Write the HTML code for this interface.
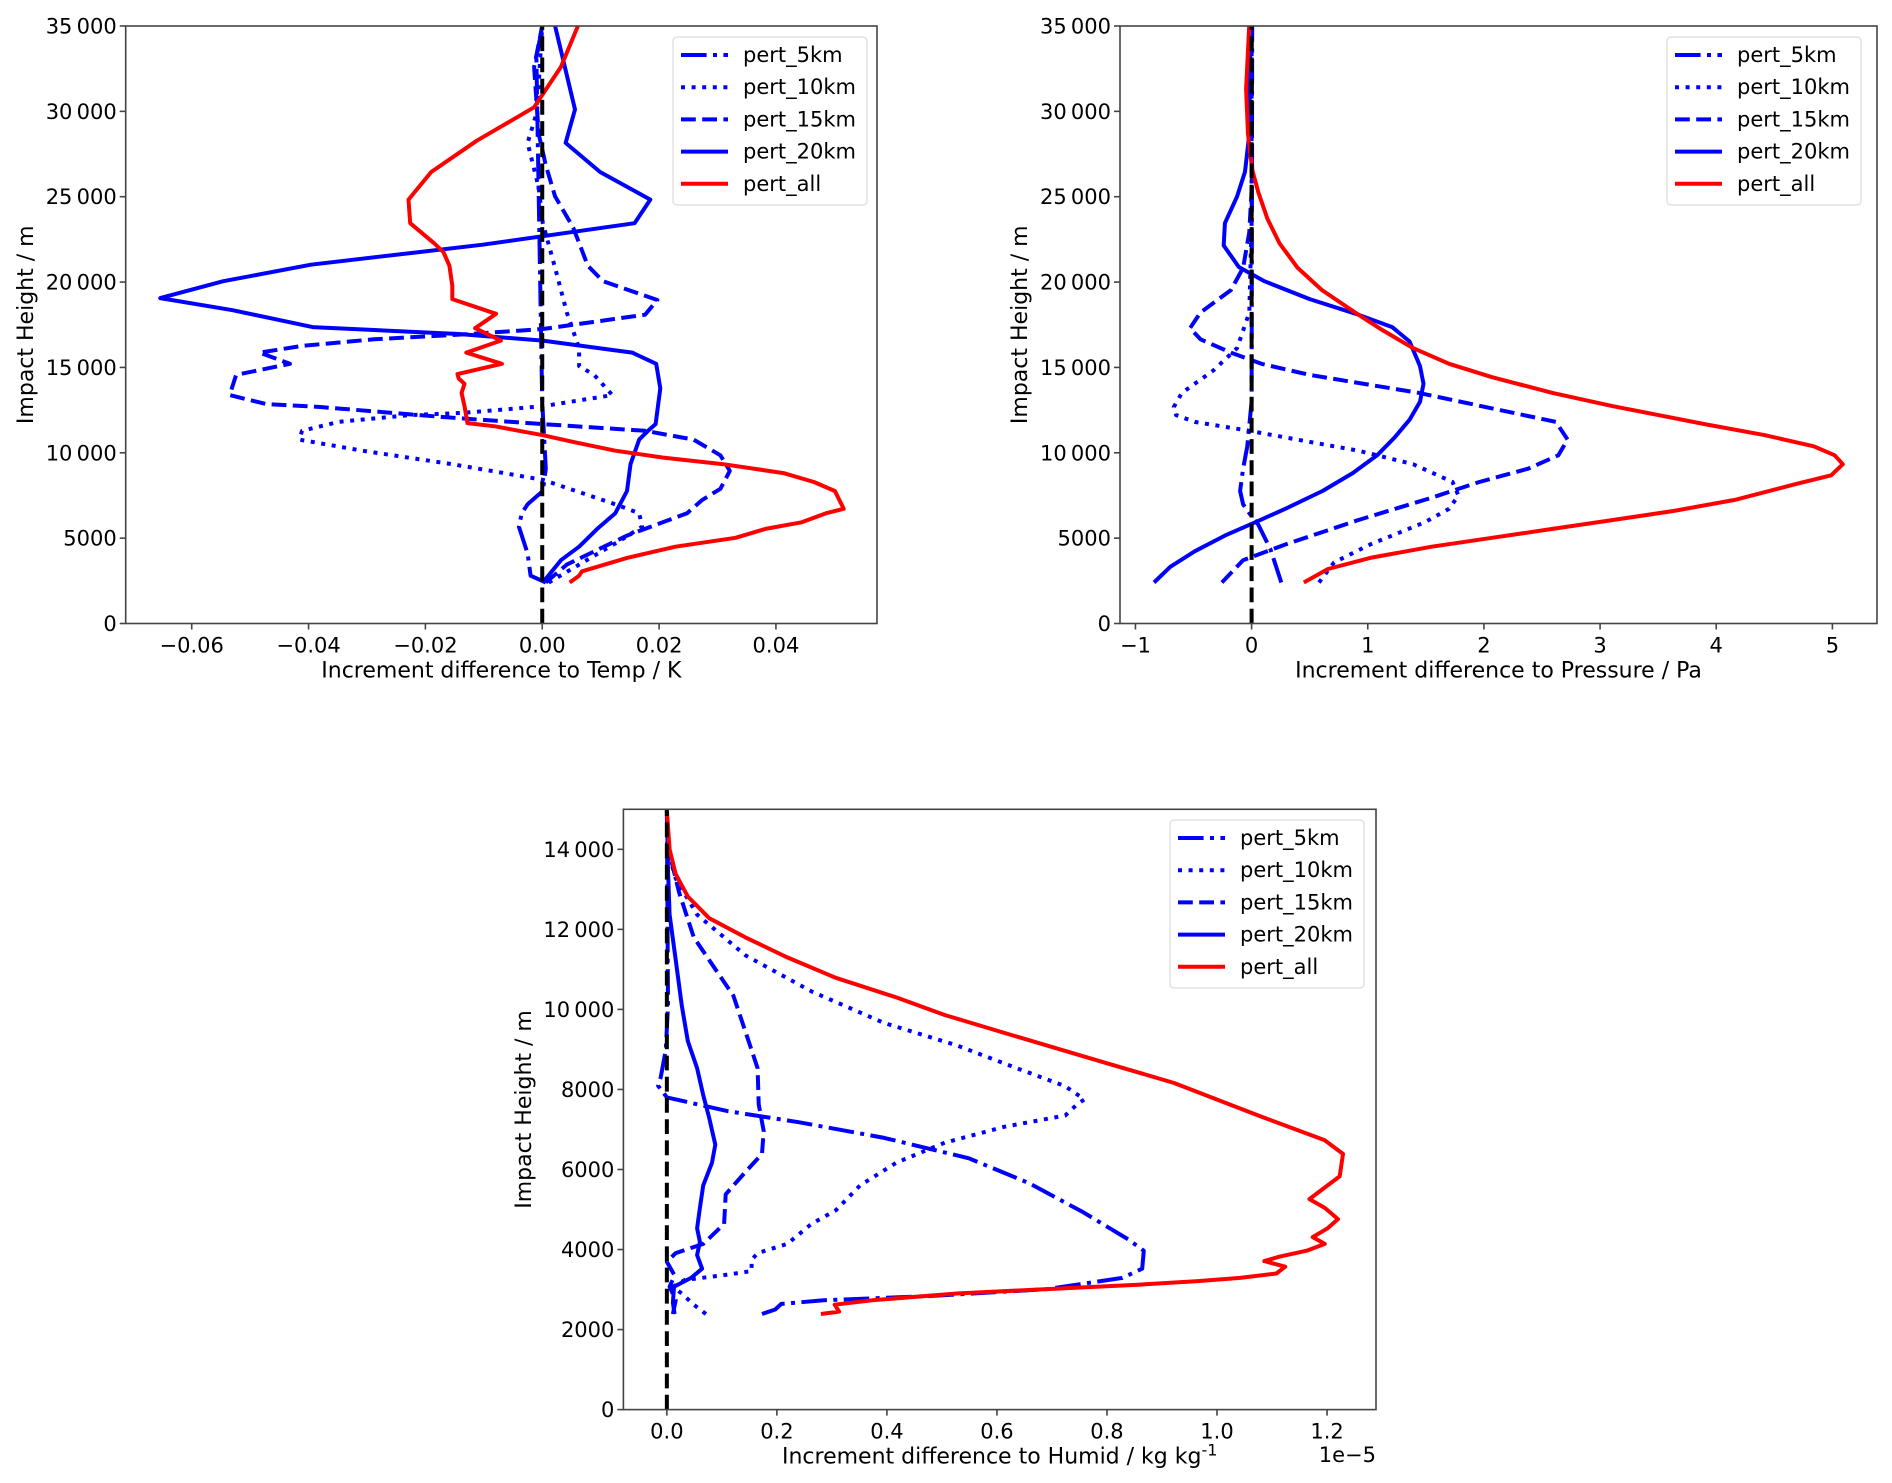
<!DOCTYPE html>
<html><head><meta charset="utf-8"><style>
html,body{margin:0;padding:0;background:#fff}
svg{display:block;font-family:"DejaVu Sans","Liberation Sans",sans-serif}
</style></head><body>
<svg id="fig" width="1892" height="1483" viewBox="0 0 1892 1483" xmlns="http://www.w3.org/2000/svg"></svg>
<script>
// ---------- data: plot 1 (Temp) ----------
const tAllX=[0.0047,0.0063,0.0068,0.0145,0.0228,0.0331,0.0382,0.0444,0.0486,0.0516,0.0501,0.0465,0.0413,0.031,0.0207,0.0125,0.0053,0.0001,-0.004,-0.0081,-0.0128,-0.0133,-0.0138,-0.0133,-0.0143,-0.0145,-0.0069,-0.013,-0.0071,-0.0115,-0.0079,-0.0154,-0.0154,-0.0159,-0.0169,-0.0185,-0.0226,-0.0229,-0.019,-0.0112,-0.0014,0.0001,0.0032,0.0061];
const tAllY=[2400,2800,3060,3840,4500,5020,5540,5930,6460,6720,7760,8290,8810,9330,9720,10120,10640,11030,11290,11550,11740,12730,13510,14040,14350,14610,15210,15870,16570,17300,18140,19000,19790,20960,21750,22270,23450,24830,26450,28280,30240,31010,32600,35000];
const t20X=[0.0001,0.0032,0.0063,0.0094,0.0125,0.0145,0.0151,0.0166,0.0181,0.0194,0.0202,0.0195,0.0154,0.0001,-0.0143,-0.0393,-0.053,-0.0654,-0.0546,-0.0396,-0.0102,0.0158,0.0185,0.0099,0.004,0.0056,0.0022];
const t20Y=[2400,3710,4500,5540,6460,7760,9330,10770,11290,11680,13770,15210,15870,16570,16960,17360,18350,19060,20050,21020,22190,23450,24830,26450,28150,30110,35000];
const t15X=[0.0006,0.0042,0.0145,0.0248,0.0274,0.0305,0.0321,0.0305,0.0259,0.0176,0.0001,-0.0164,-0.038,-0.0473,-0.0535,-0.0524,-0.0432,-0.0484,-0.0411,-0.0288,-0.0123,0.0001,0.0176,0.0197,0.0104,0.0078,0.0053,0.0022,0.0006,-0.0006,-0.0014,0];
const t15Y=[2400,3450,5150,6460,7240,7890,8940,9850,10770,11290,11680,12080,12680,12860,13380,14560,15210,15870,16260,16650,16960,17250,18090,18950,20050,20960,23190,25020,26840,28680,32600,35000];
const t10X=[0.0011,0.0063,0.0135,0.0171,0.0166,0.0125,0.0001,-0.0154,-0.0308,-0.0416,-0.0411,-0.0349,-0.0226,-0.0133,0.0001,0.012,0.0089,0.0063,0.0063,0.0042,0.0022,0.0001,-0.0006,-0.0025,-0.0009,0];
const t10Y=[2400,3450,4890,5670,6460,6980,8420,9330,10120,10770,11290,11810,12210,12340,12730,13380,14560,15080,16130,18220,20830,23450,25540,28150,29980,35000];
const t5X=[0.0006,-0.002,-0.0025,-0.0035,-0.004,-0.0035,-0.0025,0.0001,0.0006,0,-0.001,0];
const t5Y=[2400,2800,4100,5150,5670,6460,6980,7760,9070,13000,33100,35000];
// ---------- data: plot 2 (Pressure) ----------
const pAllX=[0.449,0.658,1.02,1.55,2.07,2.59,3.11,3.63,4.16,4.68,4.99,5.09,5.02,4.84,4.42,3.90,3.11,2.59,2.07,1.70,1.39,1.13,0.919,0.606,0.397,0.24,0.136,0.057,0.005,-0.031,-0.047,-0.021];
const pAllY=[2400,3190,3840,4500,5020,5540,6060,6590,7240,8160,8680,9330,9850,10380,11030,11680,12730,13510,14430,15210,16130,17170,18090,19530,20830,22270,23710,25280,26590,28680,31300,35000];
const p20X=[-0.84,-0.70,-0.49,-0.23,0.031,0.29,0.61,0.87,1.08,1.23,1.36,1.45,1.48,1.45,1.36,1.21,0.92,0.50,0.11,-0.11,-0.24,-0.23,-0.125,-0.057,-0.02,-0.01];
const p20Y=[2400,3320,4230,5150,5930,6720,7760,8810,9850,10890,11940,12990,14040,15080,16520,17360,18090,19000,20050,20880,22140,23450,25020,26460,28680,35000];
const p15X=[-0.256,-0.073,0.29,0.92,1.55,1.96,2.38,2.64,2.72,2.62,2.07,1.44,0.50,0.084,-0.178,-0.44,-0.53,-0.44,-0.178,-0.073,-0.02,0.005,0];
const p15Y=[2400,3710,4630,6060,7370,8290,9070,9850,10770,11810,12600,13510,14560,15210,15870,16650,17300,18220,19530,20830,22920,26060,35000];
const p10X=[0.58,0.71,1.02,1.49,1.70,1.78,1.73,1.39,0.92,0.50,-0.02,-0.49,-0.65,-0.67,-0.60,-0.33,-0.125,-0.02,0,0];
const p10Y=[2400,3580,4630,5930,6720,7500,8290,9330,10120,10640,11290,11810,12210,12680,13510,14820,16130,18220,23450,35000];
const p5X=[0.256,0.162,0.057,-0.02,-0.073,-0.099,-0.073,-0.037,0,0.005];
const p5Y=[2400,4360,5800,6460,6980,7760,9070,10380,13000,35000];
// ---------- data: plot 3 (Humid, 1e-5) ----------
const hAllX=[0.28,0.313,0.305,0.373,0.527,0.691,0.856,0.965,1.042,1.108,1.124,1.086,1.113,1.163,1.196,1.174,1.201,1.22,1.196,1.168,1.196,1.223,1.229,1.196,1.075,0.922,0.801,0.636,0.505,0.417,0.307,0.219,0.143,0.077,0.038,0.016,0.005,0];
const hAllY=[2390,2450,2620,2730,2900,3010,3120,3210,3290,3400,3570,3710,3820,3970,4140,4310,4530,4760,5040,5260,5550,5830,6390,6730,7350,8160,8650,9320,9860,10300,10790,11300,11800,12280,12820,13380,14000,14960];
const h5X=[0.173,0.197,0.208,0.285,0.483,0.691,0.828,0.864,0.867,0.839,0.757,0.658,0.549,0.395,0.241,0.11,0,-0.016,-0.011,-0.002,0.002,0];
const h5Y=[2390,2500,2640,2730,2840,3010,3290,3520,3970,4250,4930,5660,6280,6790,7180,7460,7800,8090,8310,8990,10110,14960];
const h15X=[0.011,0.016,0.005,0.014,0,0.016,0.066,0.104,0.107,0.143,0.173,0.176,0.167,0.165,0.143,0.121,0.082,0.049,0.022,0.002,0];
const h15Y=[2390,2730,3070,3350,3690,3910,4140,4640,5380,5940,6390,6960,7630,8530,9440,10340,11130,11800,12930,14060,14960];
const h20X=[0.014,0.011,0.013,0.044,0.064,0.055,0.06,0.055,0.06,0.066,0.082,0.088,0.077,0.066,0.055,0.038,0.027,0.016,0.005,0.002,0];
const h20Y=[2390,2670,3070,3290,3520,3860,4190,4530,5040,5600,6170,6620,7290,7860,8530,9210,10110,11240,12370,13490,14960];
const h10X=[0.071,0.049,0.027,0.011,0.033,0.099,0.154,0.154,0.165,0.219,0.263,0.307,0.351,0.417,0.505,0.614,0.724,0.746,0.759,0.724,0.636,0.527,0.395,0.263,0.143,0.055,0.016,0];
const h10Y=[2390,2620,2900,3070,3240,3350,3460,3740,3910,4140,4640,4980,5600,6170,6670,7070,7350,7630,7750,8080,8530,9100,9660,10450,11350,12370,13270,14060];
// tick labels
const t1XTicks=[-0.06,-0.04,-0.02,0,0.02,0.04];
const t1XLabels=["\u22120.06","\u22120.04","\u22120.02","0.00","0.02","0.04"];
const bigYTicks=[0,5000,10000,15000,20000,25000,30000,35000];
const bigYLabels=["0","5000","10\u2009000","15\u2009000","20\u2009000","25\u2009000","30\u2009000","35\u2009000"];
const p2XTicks=[-1,0,1,2,3,4,5];
const p2XLabels=["\u22121","0","1","2","3","4","5"];
const h3XTicks=[0,0.2,0.4,0.6,0.8,1.0,1.2];
const h3XLabels=["0.0","0.2","0.4","0.6","0.8","1.0","1.2"];
const h3YTicks=[0,2000,4000,6000,8000,10000,12000,14000];
const h3YLabels=["0","2000","4000","6000","8000","10\u2009000","12\u2009000","14\u2009000"];
const legendNames=["pert_5km","pert_10km","pert_15km","pert_20km","pert_all"];

const NS="http://www.w3.org/2000/svg";
const svg=document.getElementById('fig');
function mk(tag,attrs,parent){const e=document.createElementNS(NS,tag);for(const k in attrs)e.setAttribute(k,attrs[k]);(parent||svg).appendChild(e);return e;}
const STY={
 d5:{stroke:'#0000ff',dash:'25.6,6.4,4,6.4'},
 d10:{stroke:'#0000ff',dash:'4,6.6'},
 d15:{stroke:'#0000ff',dash:'14.8,6.4'},
 d20:{stroke:'#0000ff',dash:''},
 all:{stroke:'#ff0000',dash:''}
};
function plot(cfg){
 const g=mk('g',{});
 
 
 const sx=v=>cfg.L+(v-cfg.x0)/(cfg.x1-cfg.x0)*(cfg.R-cfg.L);
 const sy=v=>cfg.B-(v-cfg.y0)/(cfg.y1-cfg.y0)*(cfg.B-cfg.T);
 const clip='c'+cfg.name;
 const cp=mk('clipPath',{id:clip},g);mk('rect',{x:cfg.L,y:cfg.T,width:cfg.R-cfg.L,height:cfg.B-cfg.T},cp);
 const lines=mk('g',{'clip-path':'url(#'+clip+')'},g);
 cfg.series.forEach(s=>{
  const st=STY[s.k];
  const pts=s.x.map((v,i)=>sx(v).toFixed(1)+','+sy(s.y[i]).toFixed(1)).join(' ');
  const p=mk('polyline',{points:pts,fill:'none',stroke:st.stroke,'stroke-width':4,'stroke-linejoin':'round'},lines);
  if(st.dash)p.setAttribute('stroke-dasharray',st.dash);
  
  
 });
 const z=mk('line',{x1:sx(0),x2:sx(0),y1:sy(cfg.y0),y2:sy(cfg.y1),stroke:'#000','stroke-width':4,'stroke-dasharray':'14.8,6.4'},lines);
 
 
 const fr=mk('rect',{x:cfg.L,y:cfg.T,width:cfg.R-cfg.L,height:cfg.B-cfg.T,fill:'none',stroke:'#444','stroke-width':1.6},g);
 
 
 cfg.xt.forEach((v,i)=>{
  const x=sx(v);
  mk('line',{x1:x,x2:x,y1:cfg.B,y2:cfg.B+6,stroke:'#444','stroke-width':1.6},g);
  const t=mk('text',{x:x,y:cfg.B+29,'font-size':21,'text-anchor':'middle',fill:'#000'},g);t.textContent=cfg.xl[i];
  
  
 });
 cfg.yt.forEach((v,i)=>{
  const y=sy(v);
  mk('line',{x1:cfg.L-6,x2:cfg.L,y1:y,y2:y,stroke:'#444','stroke-width':1.6},g);
  const t=mk('text',{x:cfg.L-9,y:y+7.5,'font-size':21,'text-anchor':'end',fill:'#000'},g);t.textContent=cfg.yl[i];
  
  
 });
 const xt=mk('text',{x:(cfg.L+cfg.R)/2,y:cfg.B+54,'font-size':22,'text-anchor':'middle',fill:'#000'},g);
 xt.innerHTML=cfg.xlabel;
 
 
 const yc=(cfg.T+cfg.B)/2;
 const yt=mk('text',{x:cfg.ylx,y:yc,'font-size':22,'text-anchor':'middle',fill:'#000',transform:'rotate(-90 '+cfg.ylx+' '+yc+')'},g);
 yt.textContent='Impact Height / m';
 
 
 // legend
 const lg=mk('g',{},g);
 
 
 mk('rect',{x:cfg.lgx,y:cfg.lgy,width:194,height:168,rx:4,fill:'#fff','fill-opacity':0.85,stroke:'#ddd','stroke-width':1.3},lg);
 ['d5','d10','d15','d20','all'].forEach((k,i)=>{
  const y=cfg.lgy+18+i*32.2;
  const e=mk('g',{},lg);
  
  
  const l=mk('line',{x1:cfg.lgx+8,x2:cfg.lgx+55,y1:y,y2:y,stroke:STY[k].stroke,'stroke-width':4},e);
  if(STY[k].dash)l.setAttribute('stroke-dasharray',STY[k].dash);
  const t=mk('text',{x:cfg.lgx+70,y:y+7,'font-size':21,fill:'#000'},e);t.textContent=legendNames[i];
 });
 return {sx,sy,g};
}
plot({name:'temp-plot',L:125.7,R:877,T:26,B:623.5,x0:-0.0713,x1:0.0573,y0:0,y1:35000,
 xt:t1XTicks,xl:t1XLabels,yt:bigYTicks,yl:bigYLabels,xlabel:'Increment difference to Temp / K',ylx:33,lgx:673,lgy:37,
 series:[{k:'d5',x:t5X,y:t5Y},{k:'d10',x:t10X,y:t10Y},{k:'d15',x:t15X,y:t15Y},{k:'d20',x:t20X,y:t20Y},{k:'all',x:tAllX,y:tAllY}]});
plot({name:'pressure-plot',L:1120,R:1877,T:26,B:623.5,x0:-1.133,x1:5.384,y0:0,y1:35000,
 xt:p2XTicks,xl:p2XLabels,yt:bigYTicks,yl:bigYLabels,xlabel:'Increment difference to Pressure / Pa',ylx:1027,lgx:1667,lgy:37,
 series:[{k:'d5',x:p5X,y:p5Y},{k:'d10',x:p10X,y:p10Y},{k:'d15',x:p15X,y:p15Y},{k:'d20',x:p20X,y:p20Y},{k:'all',x:pAllX,y:pAllY}]});
const h=plot({name:'humid-plot',L:623.4,R:1376,T:809.3,B:1409.6,x0:-0.079,x1:1.289,y0:0,y1:15000,
 xt:h3XTicks,xl:h3XLabels,yt:h3YTicks,yl:h3YLabels,xlabel:'Increment difference to Humid / kg kg<tspan dy="-8" font-size="16">-1</tspan>',ylx:531,lgx:1170,lgy:820,
 series:[{k:'d5',x:h5X,y:h5Y},{k:'d10',x:h10X,y:h10Y},{k:'d15',x:h15X,y:h15Y},{k:'d20',x:h20X,y:h20Y},{k:'all',x:hAllX,y:hAllY}]});
const off=mk('text',{x:1376,y:1462,'font-size':21,'text-anchor':'end',fill:'#000'});
off.textContent='1e\u22125';


</script>
</body></html>
